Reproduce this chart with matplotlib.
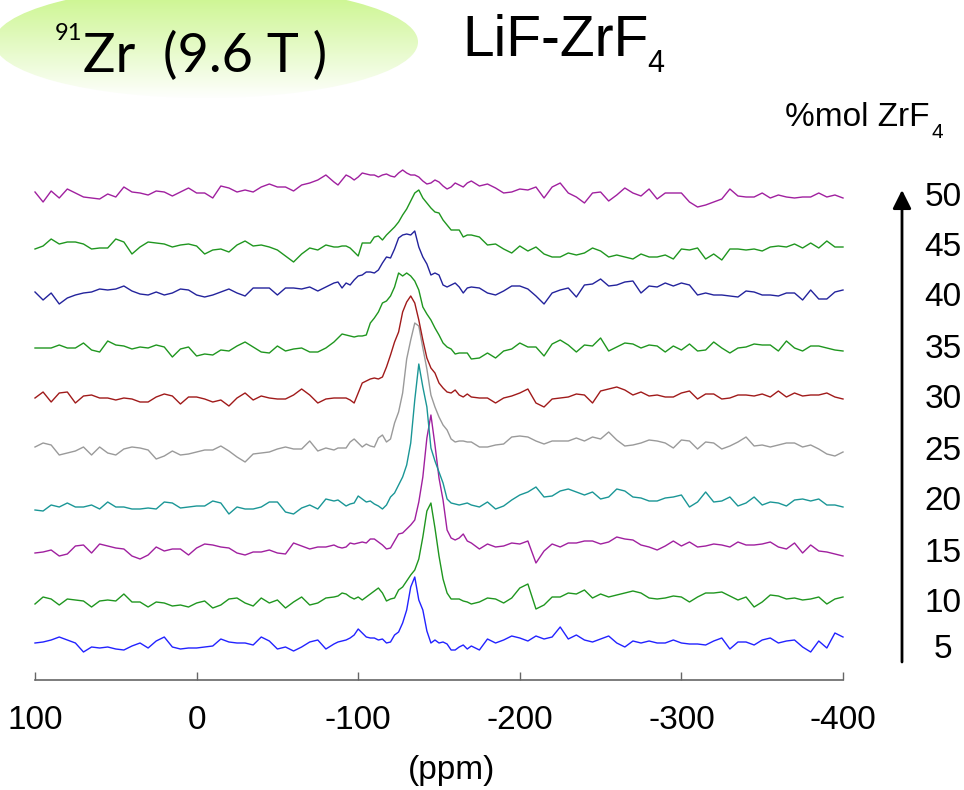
import numpy as np
import matplotlib
matplotlib.use('Agg')
import matplotlib.pyplot as plt
from matplotlib.patches import Ellipse

plt.rcParams['font.family'] = ['Liberation Sans', 'DejaVu Sans']

# chemical shift grid (ppm): 5 ppm steps, 2.5 ppm through the peak region
ppm = np.concatenate([np.arange(100, -86, -5),
                      np.arange(-87.5, -171, -2.5),
                      np.arange(-175, -401, -5)])

# intensities (vertical pixels above each baseline)
zr50 = [3, -7, 4, -3, 6, 2, -2, -3, -4, 1, -2, 8, 3, 2, 0, 4, 3, -1, 3, 7, 2, 2, -3, 9, 7, 3, 5, 3, 8, 11, 8, 8, 4, 10, 12, 15, 20, 13,
        10, 15, 20, 18, 15, 18, 22, 21, 20, 20, 18, 20, 21, 19, 18, 22, 25, 22, 20, 20, 18, 14, 11, 12, 15, 13, 9, 6, 8, 12, 10, 8, 12, 14,
        9, 11, 7, 2, 3, 6, 5, 8, -3, 8, 12, 2, -2, -8, 2, 3, -6, 0, 7, 2, -1, 6, -4, 2, 2, 2, -7, -12, -10, -7, -4, 6, -1, -2, -2, 2, -3, 0, -2, -3, -2, -2, 2, -2, 0, -3]
zr45 = [-2, 1, 8, 3, 5, 5, 3, -2, -1, -1, 8, 5, -7, 0, 5, 4, 3, 0, 2, 3, 1, -7, -3, -2, -5, 2, 6, 1, 2, 0, -3, -9, -15, -7, -1, -3, 2, 0,
        0, 1, 1, -1, -5, -9, 4, 4, 4, 10, 11, 7, 12, 16, 20, 25, 32, 38, 46, 54, 57, 49, 44, 39, 35, 34, 27, 22, 17, 17, 17, 10, 12, 12,
        10, 2, 3, -2, -6, 1, -4, 0, -7, -10, -10, -6, -8, -6, -1, -4, -10, -8, -10, -12, -7, -10, -10, -8, -12, -2, -3, -1, -12, -7, -13, -2, -2, -3, -2, -4, 0, 1, 0, 3, -1, 4, -1, 6, 0, 0]
zr40 = [1, -7, 0, -11, -5, -2, 0, 1, 4, 3, 4, 7, 2, -1, -2, 1, -2, 0, 4, 3, -2, -4, -2, 1, 4, 0, -3, 5, 5, 5, -2, 5, 5, 4, 6, 2, 6, 10,
        11, 5, 10, 8, 13, 17, 18, 21, 21, 20, 23, 30, 36, 35, 44, 55, 58, 59, 58, 62, 46, 36, 29, 18, 20, 18, 8, 6, 8, 10, 6, 0, 5, 6,
        5, 0, -2, 2, 7, 7, 4, -3, -11, 0, 3, 5, -4, 8, 9, 14, 7, 8, 11, 12, 0, 7, 6, 10, 7, 10, 8, -2, 0, -2, -2, -3, -4, 2, 1, -2, -2, -3, 0, 0, -7, 3, -6, -6, 1, 3]
zr35 = [1, 1, 1, 4, 1, 1, 6, -1, -3, 8, 4, 3, 0, 2, 1, 4, 2, -8, 0, 2, -7, -5, -6, -1, -2, 3, 7, 2, -3, -4, 3, -2, 0, 1, -3, -3, 1, 7,
        11, 15, 14, 13, 12, 13, 13, 14, 26, 31, 37, 46, 48, 53, 62, 76, 73, 76, 73, 68, 59, 42, 35, 29, 21, 14, 6, 2, 0, -5, -4, -4, -4, -10,
        -9, -4, -9, -2, 0, 6, 2, 2, -7, 5, 9, 4, -3, 4, 3, 11, -2, 2, 6, 5, 1, 4, 3, -3, 3, -1, 5, -2, -1, 7, 1, -4, 1, 2, 5, 4, 4, -2, 8, 1, -2, 3, 3, 1, -1, -2]
zr30 = [0, 6, -4, 5, 6, -5, 2, 3, 0, 0, -2, 0, -1, -4, -4, 1, 4, 2, -6, 1, 1, -1, -4, -2, -8, 0, 5, -2, 2, 0, -1, -1, 3, 9, 3, -5, -1, 0,
        0, 0, 0, -2, -5, 5, 15, 17, 19, 20, 19, 21, 31, 43, 56, 66, 86, 96, 102, 95, 78, 58, 40, 30, 25, 15, 10, 6, 5, 8, 3, 1, 4, 1,
        0, 0, -5, 0, 2, 5, 9, -5, -9, -1, 0, 1, 4, 3, -5, 7, 9, 11, 8, 3, 6, 2, 3, 1, 1, 5, 7, -1, 4, 4, -1, 0, 3, 3, 2, 4, 1, 7, 1, 5, 2, 3, 3, 5, 1, -1]
zr25 = [1, 5, 3, -7, -5, -3, 1, -7, 1, -5, -7, -1, 1, 0, -2, -11, -8, -3, -7, -6, -4, -2, -2, 2, -3, -9, -14, -6, -5, -4, -1, 1, -1, -1, 7, -3, 0, -2,
        0, 0, 0, 6, 9, 5, 1, 4, 2, 1, 10, 13, 6, 9, 25, 36, 55, 89, 108, 125, 122, 100, 79, 53, 41, 31, 23, 18, 9, 6, 7, 7, 6, 6,
        1, 1, 3, 4, 11, 12, 11, 7, 4, 7, 7, 7, 10, 7, 11, 9, 16, 8, 2, 3, 5, 8, 7, 5, 0, 8, 7, -1, 6, 5, -1, 2, 6, 11, 2, 3, 1, 3, 5, 5, 1, 3, -1, -6, -8, -4]
zr20 = [-5, -6, 0, -2, 2, -2, -2, 0, -4, 3, -2, -2, -4, -4, -3, -4, 3, 2, -3, -2, -1, -1, 4, 2, -9, -2, -4, -4, -2, 3, 3, -7, -9, -3, 0, -4, 6, 4,
        5, 2, -1, 1, 2, 9, 6, 3, 4, 1, -1, -4, 0, 8, 12, 20, 28, 40, 62, 105, 141, 118, 98, 57, 44, 33, 22, 6, 2, 1, 0, 1, 2, 0,
        -2, 3, -4, -1, 5, 10, 13, 18, 8, 9, 14, 16, 13, 10, 13, 6, 8, 16, 14, 8, 7, 4, 4, 7, 8, 10, -2, 3, 13, 3, 4, 8, -1, 2, 8, 0, 3, 2, -1, 5, 6, 4, 6, 0, 0, -2]
zr15 = [-2, -1, 1, -5, -3, 5, 6, -2, 7, 5, 3, 2, -5, -8, -4, 4, 0, 2, 2, -4, 3, 7, 6, 4, 3, -2, -4, -1, -1, 1, -2, -3, 8, 5, 2, 4, 4, 6,
        4, 3, 4, 8, 7, 8, 9, 8, 12, 12, 9, 6, 2, 3, 10, 17, 18, 22, 26, 31, 49, 74, 113, 136, 106, 73, 51, 21, 13, 11, 13, 17, 10, 8,
        2, 7, 4, 5, 8, 7, 10, -12, 0, 7, 4, 8, 8, 10, 10, 7, 9, 14, 12, 11, 6, 4, 1, 5, 10, 5, 9, 4, 5, 7, 6, 4, 9, 6, 6, 7, 9, 4, 2, 8, -2, 6, 0, -1, -3, -5]
zr10 = [-3, 4, 2, -4, 2, 1, 0, -6, 0, 1, 0, 7, -1, -1, -6, -1, -2, -5, -4, -6, -2, 0, -7, -4, 2, 3, -2, -5, 3, -2, 1, -7, -1, 4, -4, -2, 3, 4,
        5, 8, 7, 4, 2, 4, 1, 4, 7, 10, 13, 8, 0, 2, 3, 11, 14, 20, 26, 31, 42, 64, 90, 98, 73, 45, 22, 8, 2, 2, 2, 0, -1, -3,
        -1, 3, 2, -2, 3, 13, 17, -8, -4, 4, 4, 8, 7, 11, 3, 7, 4, 6, 8, 10, 8, 3, 2, 3, 5, 4, -1, 4, 8, 8, 9, 5, 1, 4, -6, -1, 6, 5, 2, 3, 1, 2, 4, -3, 2, 4]
zr5 = [0, 1, 3, 6, 3, 0, -9, -4, -5, -4, -6, -7, -3, 0, -5, 2, 6, -4, -6, -5, -5, -4, -3, 4, 1, 0, 0, -2, 6, 2, -6, -4, -8, -4, 1, 3, -6, -1,
       1, 2, 3, 5, 8, 14, 10, 6, 5, 5, 3, 4, 0, 1, 8, 11, 20, 33, 56, 66, 43, 33, 12, 0, 3, 0, 1, -1, -7, -7, -4, -2, -6, -3,
       -7, 4, 0, 3, 7, 5, 2, 7, 4, 6, 16, 4, 8, 3, 1, 4, 7, 0, -4, 2, 0, 2, 0, 0, 3, 0, -1, -1, -2, 2, 5, -6, 1, 1, -2, 3, 5, 0, 2, 3, -4, -9, 2, -5, 10, 6]

spectra = [zr5, zr10, zr15, zr20, zr25, zr30, zr35, zr40, zr45, zr50]
mol_labels = ['5', '10', '15', '20', '25', '30', '35', '40', '45', '50']
baselines = [37, 79, 129, 175, 232, 282, 331, 387, 433, 485]
label_y = [650, 604, 553, 502, 452, 400, 350, 298, 248, 198]
colors = ['#2222ff', '#1f961f', '#a0209f', '#1a9696', '#9a9a9a',
          '#a01a1a', '#1f961f', '#23239c', '#1f961f', '#a0209f']
tick_ppm = [100, 0, -100, -200, -300, -400]

W, H = 964, 790
fig = plt.figure(figsize=(W / 100, H / 100), dpi=100)

# overlay in pixel coordinates (origin top-left) for the decorations
bg = fig.add_axes([0, 0, 1, 1])
bg.set_xlim(0, W)
bg.set_ylim(H, 0)
bg.axis('off')

ell = Ellipse((206, 42), 424, 112, facecolor='none', edgecolor='none')
bg.add_patch(ell)
top = np.array([0.78, 0.96, 0.52])
bot = np.array([1.0, 1.0, 1.0])
t = np.linspace(0, 1, 200)[:, None]
grad = (top * (1 - t) + bot * t)[:, None, :]
im = bg.imshow(grad, extent=(-10, 422, 100, -16), origin='upper', aspect='auto', zorder=0)
im.set_clip_path(ell)
bg.set_xlim(0, W)
bg.set_ylim(H, 0)

bg.text(55, 40, '91', fontsize=17, family='Lato', va='baseline', ha='left')
bg.text(83, 72, 'Zr  (9.6 T )', fontsize=39, family='Lato', va='baseline', ha='left')
bg.text(462, 56, 'LiF-ZrF', fontsize=41, va='baseline', ha='left')
bg.text(647, 72, '4', fontsize=22, va='baseline', ha='left')
bg.text(785, 126, '%mol ZrF', fontsize=24, va='baseline', ha='left')
bg.text(931, 138, '4', fontsize=15, va='baseline', ha='left')

for lab, yy in zip(mol_labels, label_y):
    bg.text(943, yy, lab, fontsize=24, ha='center', va='center')

bg.annotate('', xy=(902, 190), xytext=(902, 662),
            arrowprops=dict(arrowstyle='-|>', lw=2, color='k', mutation_scale=28,
                            shrinkA=0, shrinkB=0))

bg.text(452, 770, '(ppm)', fontsize=24, ha='center', va='center')

# stacked spectra
ax = fig.add_axes([35 / W, 110 / H, 808 / W, 520 / H])
ax.set_xlim(100, -400)
ax.set_ylim(0, 520)
ax.patch.set_alpha(0)
for y, b, c in zip(spectra, baselines, colors):
    ax.plot(ppm, np.array(y) + b, color=c, lw=1.0, clip_on=False,
            solid_joinstyle='round')

for s in ['left', 'top', 'right']:
    ax.spines[s].set_visible(False)
ax.spines['bottom'].set_color('#666666')
ax.spines['bottom'].set_linewidth(1.2)
ax.set_yticks([])
ax.set_xticks(tick_ppm)
ax.set_xticklabels([str(v) for v in tick_ppm])
ax.tick_params(axis='x', direction='in', length=6, width=1, color='#666666',
               pad=18, labelsize=24)

fig.savefig('out.png', dpi=100)
